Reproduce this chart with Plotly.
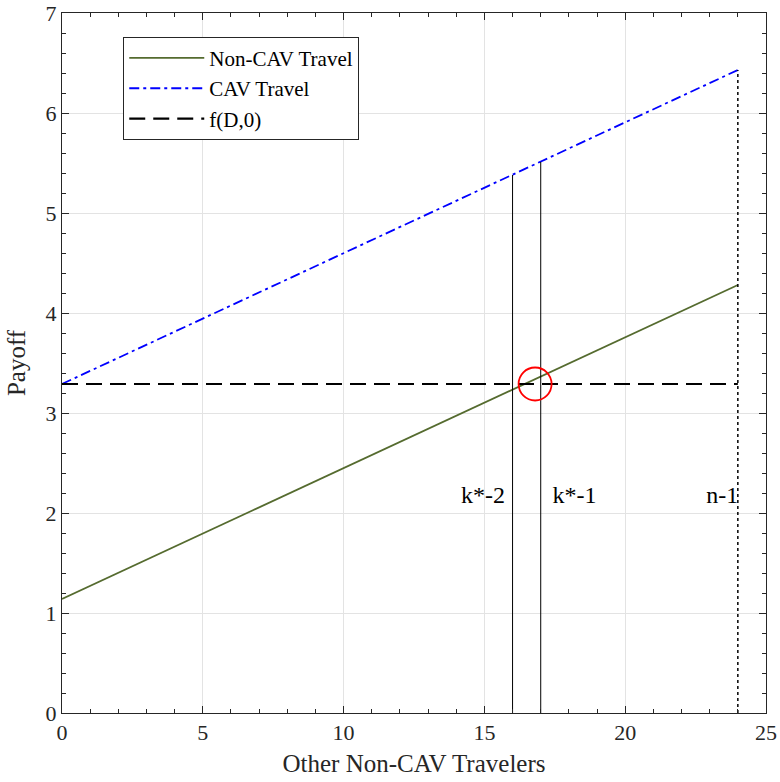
import plotly.graph_objects as go

# Data
x_line = [0, 24]
noncav = [1.14, 4.28]
cav = [3.29, 6.43]
fd0 = [3.29, 3.29]

k_x = [16, 17]
k_top = [5.38, 5.51]
n_x = 24
n_top = 6.43

circle_x = [16.8]
circle_y = [3.29]

labels = ["k*-2", "k*-1", "n-1"]
label_x = [14.95, 18.2, 23.45]
label_y = [2.16, 2.16, 2.16]

FONT = "Liberation Serif, Times New Roman, serif"

fig = go.Figure()
fig.add_trace(go.Scatter(x=x_line, y=noncav, mode="lines", name="Non-CAV Travel",
                         line=dict(color="#556b2f", width=1.8)))
fig.add_trace(go.Scatter(x=x_line, y=cav, mode="lines", name="CAV Travel",
                         line=dict(color="#0000ff", width=1.8, dash="10px,4px,3px,4px")))
fig.add_trace(go.Scatter(x=x_line, y=fd0, mode="lines", name="f(D,0)",
                         line=dict(color="black", width=2.2, dash="16px,8px")))
for kx, kt in zip(k_x, k_top):
    fig.add_trace(go.Scatter(x=[kx, kx], y=[0, kt], mode="lines", showlegend=False,
                             line=dict(color="black", width=1)))
fig.add_trace(go.Scatter(x=[n_x, n_x], y=[0, n_top], mode="lines", showlegend=False,
                         line=dict(color="black", width=1.5, dash="dot")))
fig.add_trace(go.Scatter(x=circle_x, y=circle_y, mode="markers", showlegend=False,
                         marker=dict(symbol="circle-open", size=33,
                                     line=dict(color="red", width=1.8), color="red")))
fig.add_trace(go.Scatter(x=label_x, y=label_y, mode="text", text=labels, showlegend=False,
                         textfont=dict(family=FONT, size=24, color="black")))

axis_common = dict(
    showline=True, linecolor="#262626", linewidth=1, mirror="ticks",
    ticks="inside", ticklen=7, tickcolor="#262626",
    showgrid=True, gridcolor="#e3e3e3", gridwidth=1, zeroline=False,
    tickfont=dict(family=FONT, size=22, color="#262626"),
    automargin=False, ticklabeloverflow="allow",
)

fig.update_xaxes(range=[0, 25], dtick=5, tick0=0,
                 minor=dict(dtick=1, ticks="inside", ticklen=4, tickcolor="#262626", showgrid=False),
                 title=dict(text="Other Non-CAV Travelers", font=dict(family=FONT, size=25, color="#262626"),
                            standoff=10),
                 **axis_common)
fig.update_yaxes(range=[0, 7], dtick=1, tick0=0,
                 minor=dict(dtick=0.2, ticks="inside", ticklen=4, tickcolor="#262626", showgrid=False),
                 title=dict(text="Payoff", font=dict(family=FONT, size=25, color="#262626"),
                            standoff=12),
                 **axis_common)

fig.update_layout(
    width=780, height=782,
    margin=dict(l=62, r=14, t=13, b=69, autoexpand=False),
    plot_bgcolor="white", paper_bgcolor="white",
    font=dict(family=FONT, size=21, color="black"),
    legend=dict(x=0.087, y=0.966, xanchor="left", yanchor="top",
                bgcolor="white", bordercolor="#262626", borderwidth=1,
                font=dict(family=FONT, size=21, color="black"),
                tracegroupgap=0, itemwidth=75),
)

fig.write_html("out.html", config={"displayModeBar": False},
               post_script="document.body.style.margin='0';")
